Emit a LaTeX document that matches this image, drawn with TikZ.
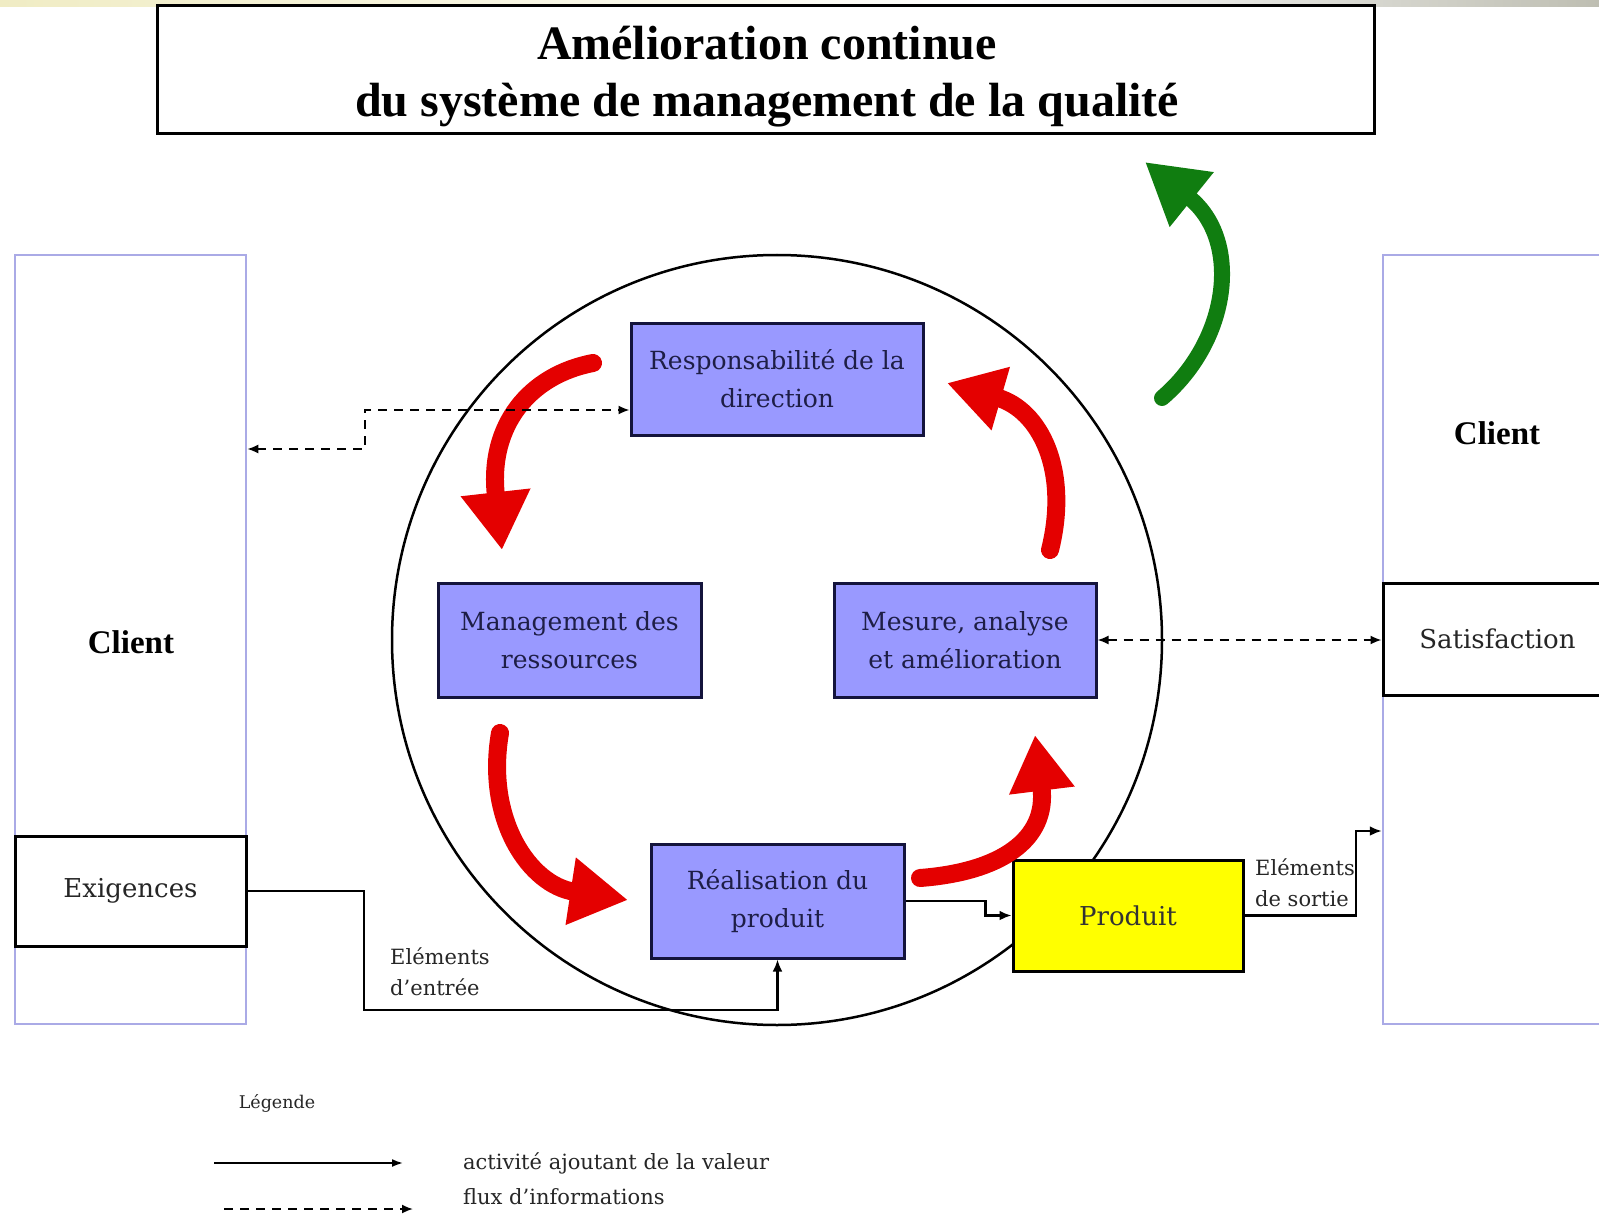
\documentclass[tikz,border=0pt]{standalone}
\usepackage{fontspec}
\setmainfont{DejaVu Serif}
\newfontfamily\titlefont{Liberation Serif}
\usetikzlibrary{arrows.meta}
\definecolor{boxblue}{RGB}{153,153,255}
\definecolor{boxline}{RGB}{20,20,60}
\definecolor{boxtext}{RGB}{30,30,70}
\definecolor{clientline}{RGB}{170,170,230}
\definecolor{arrred}{RGB}{228,0,0}
\definecolor{arrgreen}{RGB}{16,125,16}
\definecolor{prodyellow}{RGB}{255,255,0}
\definecolor{stripyellow}{RGB}{240,236,196}
\definecolor{stripgrey}{RGB}{190,190,178}
\tikzset{
  procbox/.style={draw=boxline, line width=3pt, fill=boxblue, text=boxtext, align=center,
    font=\fontsize{25}{38}\selectfont, inner sep=0pt},
  clientbox/.style={draw=clientline, line width=2.5pt, fill=white, inner sep=0pt},
  framebox/.style={draw=black, line width=3pt, fill=white, inner sep=0pt, align=center,
    font=\fontsize{26}{30}\selectfont, text=black!85},
  flow/.style={draw=black, line width=2.5pt, -{Latex[length=12pt,width=10pt]}},
  info/.style={draw=black, line width=1.8pt, dash pattern=on 9pt off 7pt},
  redarrow/.style={draw=arrred, line width=18pt, line cap=round},
  greenarrow/.style={draw=arrgreen, line width=16pt, line cap=round},
  smalllabel/.style={font=\fontsize{21}{31}\selectfont, align=left, inner sep=0pt, text=black!85},
}
\begin{document}
\begin{tikzpicture}[x=1pt,y=-1pt]
\useasboundingbox (0,0) rectangle (1599,1217);
\clip (0,0) rectangle (1599,1217);
% top strip
\shade[left color=stripyellow, right color=white] (0,0) rectangle (1000,7);
\shade[left color=white, right color=stripgrey] (1000,0) rectangle (1599,7);

% title
\node[draw=black, line width=3pt, fill=white, minimum width=1217pt, minimum height=128pt, inner sep=0pt] (title) at (765.5,70) {};
\node[align=center, inner sep=0pt, font=\titlefont\bfseries\fontsize{48}{57}\selectfont] (titletxt) at (767,77)
  {Amélioration continue\\du système de management de la qualité};

% client boxes
\node[clientbox, minimum width=231pt, minimum height=769pt] (lclient) at (130.5,639.5) {};
\node[clientbox, minimum width=237pt, minimum height=769pt] (rclient) at (1501.5,639.5) {};
\node[font=\titlefont\bfseries\fontsize{33}{38}\selectfont] (lclienttxt) at (131,642) {Client};
\node[font=\titlefont\bfseries\fontsize{33}{38}\selectfont] (rclienttxt) at (1497,433) {Client};
\node[framebox, minimum width=231pt, minimum height=110pt] (exig) at (130.5,891) {Exigences};
\node[framebox, minimum width=237pt, minimum height=112pt] (sat) at (1501.5,639) {\hspace*{-8pt}Satisfaction};

% circle
\node[circle, draw=black, line width=2.5pt, minimum size=770pt, inner sep=0pt] (cyc) at (777,640) {};

% process boxes
\node[procbox, minimum width=292pt, minimum height=112pt] (resp) at (777,379) {Responsabilité de la\\direction};
\node[procbox, minimum width=263pt, minimum height=114pt] (mgmt) at (569.5,640) {Management des\\ressources};
\node[procbox, minimum width=262pt, minimum height=114pt] (mes) at (965,640) {Mesure, analyse\\et amélioration};
\node[procbox, minimum width=253pt, minimum height=114pt] (real) at (777.5,901) {Réalisation du\\produit};
\node[draw=black, line width=3pt, fill=prodyellow, minimum width=230pt, minimum height=111pt, inner sep=0pt,
  font=\fontsize{26}{30}\selectfont, text=black!80] (prod) at (1128,915.5) {Produit};

% red cycle arrows
\draw[redarrow, -{Triangle[length=58pt,width=66pt]}] (593,363) .. controls (530,375) and (488,425) .. (502,550);
\draw[redarrow, -{Triangle[length=58pt,width=64pt]}] (500,733) .. controls (485,820) and (530,885) .. (628,900);
\draw[redarrow, -{Triangle[length=56pt,width=62pt]}] (920,878) .. controls (1000,872) and (1048,840) .. (1035,735);
\draw[redarrow, -{Triangle[length=56pt,width=62pt]}] (1050,550) .. controls (1070,470) and (1040,410) .. (947,383);

% green improvement arrow
\draw[greenarrow, -{Triangle[length=60pt,width=66pt]}] (1162,398) .. controls (1230,340) and (1242,240) .. (1145,162);

% solid flows
\draw[flow] (exig.east) -| (364,1010) -| (real.south);
\draw[flow] (real.east) -- ++(80,0) |- (prod.west);
\draw[flow] (prod.east) -| (1356,831) -- (rclient.west |- 0,831);
\node[smalllabel, anchor=west] (entree) at (390,972) {Eléments\\d'entrée};
\node[smalllabel, anchor=west] (sortie) at (1255,883) {Eléments\\de sortie};

% dashed info flows
\draw[info, {Latex[length=11pt,width=9pt]}-{Latex[length=11pt,width=9pt]}] (lclient.east |- 0,449) -| (365,410) -- (resp.west |- 0,410);
\draw[info, {Latex[length=11pt,width=9pt]}-{Latex[length=11pt,width=9pt]}] (mes.east) -- (sat.west |- mes.east);

% legend
\node[font=\fontsize{17.5}{20}\selectfont, text=black!85] (leg) at (277,1103) {Légende};
\coordinate (l1a) at (214,1163);
\coordinate (l1b) at (403,1163);
\coordinate (l2a) at (224,1209);
\coordinate (l2b) at (413,1209);
\draw[line width=1.8pt, -{Latex[length=11pt,width=8pt]}] (l1a) -- (l1b);
\draw[info, -{Latex[length=11pt,width=9pt]}] (l2a) -- (l2b);
\node[font=\fontsize{21}{22}\selectfont, anchor=west, inner sep=0pt, text=black!85] (leg1) at (463,1163) {activité ajoutant de la valeur};
\node[font=\fontsize{21}{22}\selectfont, anchor=west, inner sep=0pt, text=black!85] (leg2) at (463,1197) {flux d'informations};
\end{tikzpicture}
\end{document}
